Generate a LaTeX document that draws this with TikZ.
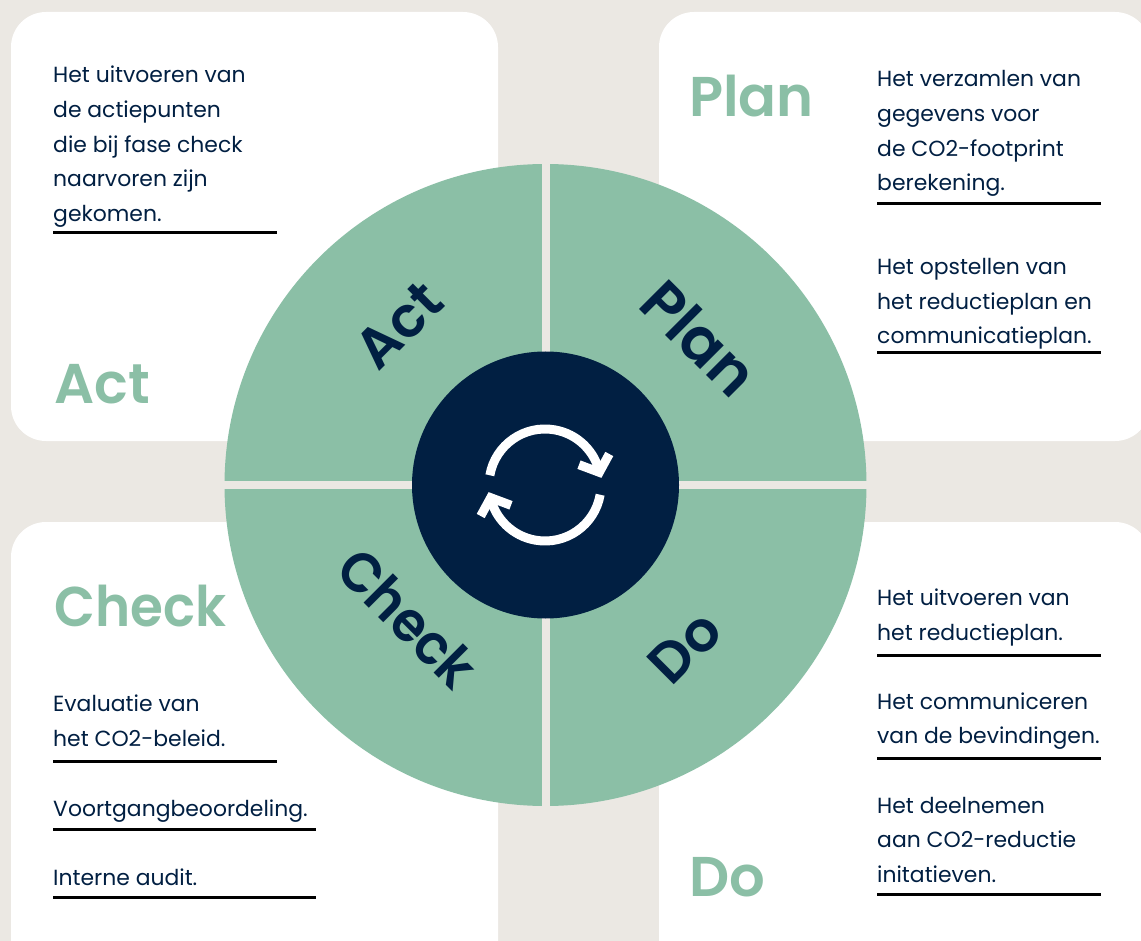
\documentclass[tikz,border=0pt]{standalone}
\usepackage{fontspec}
\setmainfont{Poppins}
\newfontfamily\headf{Poppins SemiBold}
\definecolor{bgc}{HTML}{EBE8E3}
\definecolor{grn}{HTML}{8BBFA6}
\definecolor{nav}{HTML}{011F42}
\tikzset{
 card/.style={fill=white,draw=none,rounded corners=35pt},
 body/.style={anchor=base west,inner sep=0pt,text=nav,font=\fontsize{21.9}{21.9}\selectfont},
 head/.style={anchor=base west,inner sep=0pt,text=grn,font=\fontsize{56}{56}\headf},
 wheel/.style={anchor=center,inner sep=0pt,text=nav,font=\fontsize{56}{56}\headf},
 rulel/.style={line width=3pt,black},
 icon/.style={line width=9pt,white},
}
\begin{document}
\begin{tikzpicture}[x=1pt,y=-1pt]
\useasboundingbox (0,0) rectangle (1141,941);
\clip (0,0) rectangle (1141,941);
\fill[bgc] (0,0) rectangle (1141,941);
\path[card] (11,12) rectangle (498,441);
\path[card] (659,12) rectangle (1150,441);
\path[card] (11,522) rectangle (498,980);
\path[card] (659,522) rectangle (1150,980);
% wheel
\fill[grn] (545.5,485) circle[radius=321pt];
\draw[bgc,line width=8pt] (546,160) -- (546,810);
\draw[bgc,line width=8pt] (220,485) -- (870,485);
\fill[nav] (545.5,485) circle[radius=133.5pt];
% icon
\draw[icon,line cap=butt] (545pt,-485pt) ++(170:56pt) arc[start angle=170,end angle=12,radius=56pt];
\draw[icon,line cap=butt] (545pt,-485pt) ++(-10:56pt) arc[start angle=-10,end angle=-168,radius=56pt];
\draw[icon,line join=miter] (579,464.7) -- (599.3,472.3) -- (609.3,454);
\draw[icon,line join=miter] (511,505.3) -- (490.7,497.7) -- (480.7,516);
% wheel labels
\node[wheel,rotate=45] (wAct) at (399,325) {Act};
\node[wheel,rotate=-45,scale=1.08] (wPlan) at (700,338) {Plan};
\node[wheel,rotate=-45,xscale=.94] (wCheck) at (408,618) {Check};
\node[wheel,rotate=45] (wDo) at (685,647) {Do};
% headings
\node[head] (hAct) at (54,403) {Act};
\node[head] (hPlan) at (689,117) {Plan};
\node[head,xscale=.95] (hCheck) at (54,626) {Check};
\node[head] (hDo) at (689,896) {Do};
% Act text
\node[body] (a1) at (53,82.5) {Het uitvoeren van};
\node[body] (a2) at (53,117.5) {de actiepunten};
\node[body] (a3) at (53,152.5) {die bij fase check};
\node[body] (a4) at (53,186.5) {naarvoren zijn};
\node[body] (a5) at (53,221.5) {gekomen.};
\draw[rulel] (53,233) -- (277,233);
% Plan text
\node[body] (p1) at (877,86.5) {Het verzamlen van};
\node[body] (p2) at (877,121.5) {gegevens voor};
\node[body] (p3) at (877,156.5) {de CO2-footprint};
\node[body] (p4) at (877,190.5) {berekening.};
\draw[rulel] (877,204) -- (1101,204);
\node[body] (p5) at (877,274.5) {Het opstellen van};
\node[body] (p6) at (877,309.5) {het reductieplan en};
\node[body] (p7) at (877,343.5) {communicatieplan.};
\draw[rulel] (877,353) -- (1101,353);
% Check text
\node[body] (c1) at (53,711.5) {Evaluatie van};
\node[body] (c2) at (53,746.5) {het CO2-beleid.};
\draw[rulel] (53,761) -- (277,761);
\node[body] (c3) at (53,816.5) {Voortgangbeoordeling.};
\draw[rulel] (53,829) -- (316,829);
\node[body] (c4) at (53,885.5) {Interne audit.};
\draw[rulel] (53,897) -- (316,897);
% Do text
\node[body] (d1) at (877,605.5) {Het uitvoeren van};
\node[body] (d2) at (877,640.5) {het reductieplan.};
\draw[rulel] (877,655) -- (1101,655);
\node[body] (d3) at (877,709.5) {Het communiceren};
\node[body] (d4) at (877,743.5) {van de bevindingen.};
\draw[rulel] (877,758) -- (1101,758);
\node[body] (d5) at (877,813.5) {Het deelnemen};
\node[body] (d6) at (877,847.5) {aan CO2-reductie};
\node[body] (d7) at (877,882.5) {initatieven.};
\draw[rulel] (877,894) -- (1101,894);
\end{tikzpicture}
\end{document}
